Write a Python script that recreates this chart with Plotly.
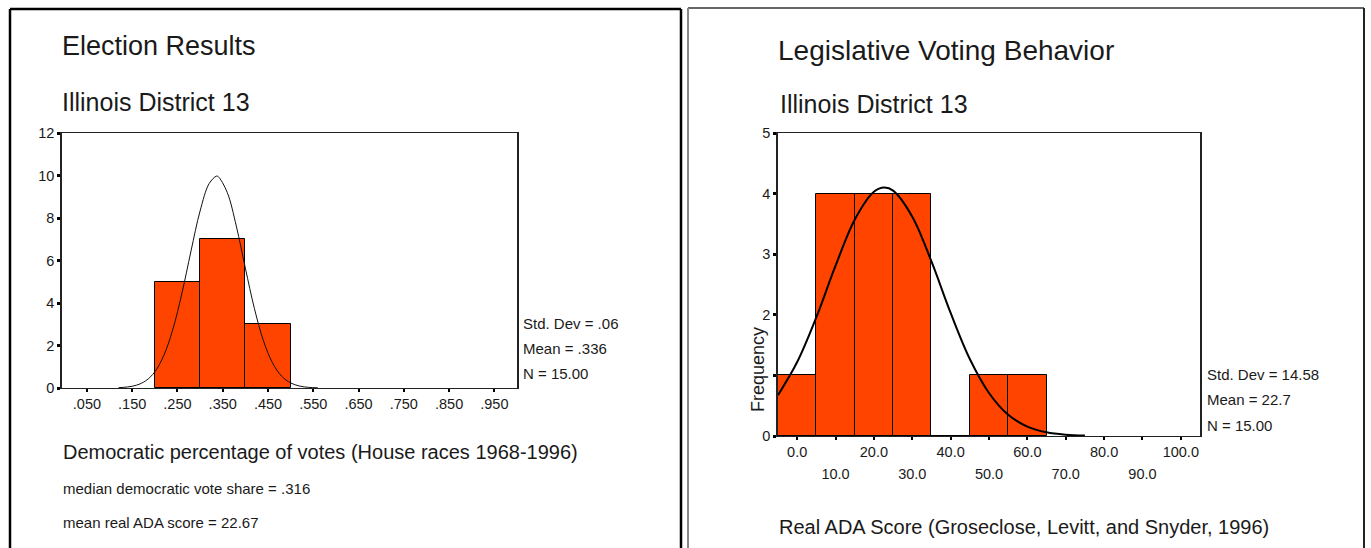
import plotly.graph_objects as go

W, H = 1371, 548

# ---------- Data: left panel (Democratic vote share) ----------
vote_bin_left = [0.2, 0.3, 0.4]
vote_bin_width = 0.1
vote_counts = [5, 7, 3]
vote_curve_x = [0.12, 0.14, 0.16, 0.18, 0.20, 0.22, 0.24, 0.26, 0.28, 0.30, 0.32, 0.336,
                0.34, 0.36, 0.38, 0.40, 0.42, 0.44, 0.46, 0.48, 0.50, 0.52, 0.54, 0.56]
vote_curve_y = [0.015, 0.05, 0.135, 0.34, 0.76, 1.54, 2.77, 4.47, 6.45, 8.33, 9.62, 9.97,
                9.95, 9.20, 7.62, 5.64, 3.74, 2.22, 1.18, 0.56, 0.24, 0.09, 0.03, 0.01]
vote_tickvals = [0.05, 0.15, 0.25, 0.35, 0.45, 0.55, 0.65, 0.75, 0.85, 0.95]
vote_ticktext = [".050", ".150", ".250", ".350", ".450", ".550", ".650", ".750", ".850", ".950"]
vote_yticks = [0, 2, 4, 6, 8, 10, 12]
vote_stats = ["Std. Dev = .06", "Mean = .336", "N = 15.00"]

# ---------- Data: right panel (Real ADA score) ----------
ada_bin_left = [-5, 5, 15, 25, 35, 45, 55]
ada_bin_width = 10
ada_counts = [1, 4, 4, 4, 0, 1, 1]
ada_curve_x = [-5, 0, 5, 10, 15, 20, 22.7, 25, 30, 35, 40, 45, 50, 55, 60, 65, 70, 75]
ada_curve_y = [0.675, 1.22, 1.96, 2.81, 3.57, 4.03, 4.10, 4.05, 3.62, 2.88, 2.03, 1.27,
               0.71, 0.35, 0.156, 0.061, 0.021, 0.007]
ada_even_ticks = [0, 20, 40, 60, 80, 100]
ada_even_text = ["0.0", "20.0", "40.0", "60.0", "80.0", "100.0"]
ada_odd_ticks = [10, 30, 50, 70, 90]
ada_odd_text = ["10.0", "30.0", "50.0", "70.0", "90.0"]
ada_yticks = [0, 1, 2, 3, 4, 5]
ada_yticktext = ["0", "", "2", "3", "4", "5"]
ada_stats = ["Std. Dev = 14.58", "Mean = 22.7", "N = 15.00"]

BAR = "#FF4400"
FONT = "Liberation Sans"
TXT = "#1a1a1a"
TICK = 14.5

def px(x):
    return x / W

def py(y):
    return 1 - y / H

fig = go.Figure()

fig.add_trace(go.Bar(
    x=[b + vote_bin_width / 2 for b in vote_bin_left], y=vote_counts, width=vote_bin_width,
    marker=dict(color=BAR, line=dict(color="black", width=1)),
    xaxis="x", yaxis="y", showlegend=False))
fig.add_trace(go.Scatter(
    x=vote_curve_x, y=vote_curve_y, mode="lines", line=dict(color="#111", width=1, shape="spline"),
    xaxis="x", yaxis="y", showlegend=False))

fig.add_trace(go.Bar(
    x=[b + ada_bin_width / 2 for b in ada_bin_left], y=ada_counts, width=ada_bin_width,
    marker=dict(color=BAR, line=dict(color="black", width=1)),
    xaxis="x2", yaxis="y2", showlegend=False))
fig.add_trace(go.Scatter(
    x=ada_curve_x, y=ada_curve_y, mode="lines", line=dict(color="black", width=2, shape="spline"),
    xaxis="x2", yaxis="y2", showlegend=False))

axis_common = dict(showgrid=False, zeroline=False, showline=True, mirror=True,
                   linecolor="#222", ticks="outside", tickcolor="black", automargin=False,
                   tickfont=dict(family=FONT, size=TICK, color=TXT), fixedrange=True)

fig.update_layout(
    width=W, height=H,
    margin=dict(l=0, r=0, t=0, b=0, pad=0, autoexpand=False),
    paper_bgcolor="white", plot_bgcolor="white",
    bargap=0,
    xaxis=dict(axis_common, domain=[px(62), px(517)], range=[-0.005, 1.0],
               tickvals=vote_tickvals, ticktext=vote_ticktext, ticklen=3, tickwidth=2,
               linewidth=1, anchor="y"),
    yaxis=dict(axis_common, domain=[py(388), py(133)], range=[0, 12],
               tickvals=vote_yticks, ticklen=3, tickwidth=3, linewidth=1.5, anchor="x"),
    xaxis2=dict(axis_common, domain=[px(778), px(1200)], range=[-5, 105],
                tickvals=ada_even_ticks, ticktext=ada_even_text, ticklen=3, tickwidth=2,
                linewidth=1, anchor="y2"),
    xaxis3=dict(axis_common, domain=[px(778), px(1200)], range=[-5, 105],
                overlaying="x2", anchor="y2", showline=False, mirror=False,
                tickvals=ada_odd_ticks, ticktext=ada_odd_text, ticklen=3, tickwidth=2,
                ticklabelstandoff=22),
    yaxis2=dict(axis_common, domain=[py(436), py(133)], range=[0, 5],
                tickvals=ada_yticks, ticktext=ada_yticktext, ticklen=3, tickwidth=3,
                linewidth=1.5, anchor="x2"),
)

# invisible helper trace so the odd-tick axis is rendered
fig.add_trace(go.Scatter(x=[None], y=[None], xaxis="x3", yaxis="y2", showlegend=False,
                         hoverinfo="skip"))

# panel frames (open at the bottom, as in the cropped original)
def frame_line(x0, y0, x1, y1, color, width):
    fig.add_shape(type="line", xref="paper", yref="paper",
                  x0=px(x0), x1=px(x1), y0=py(y0), y1=py(y1),
                  line=dict(color=color, width=width))

frame_line(10, 9, 681, 9, "black", 2.5)
frame_line(10, 9, 10, 548, "black", 2.5)
frame_line(681, 9, 681, 548, "black", 2.5)
frame_line(688, 8, 1364, 8, "#333", 1.5)
frame_line(688, 8, 688, 548, "#888", 2)
frame_line(1364, 8, 1364, 548, "#222", 2)

def note(text, x, y, size, angle=0, xanchor="left"):
    fig.add_annotation(text=text, xref="paper", yref="paper", x=px(x), y=py(y),
                       xanchor=xanchor, yanchor="middle", showarrow=False, textangle=angle,
                       font=dict(family=FONT, size=size, color=TXT))

note("Election Results", 60, 46, 27)
note("Illinois District 13", 60, 102, 25)
for i, s in enumerate(vote_stats):
    note(s, 521, 323 + 25 * i, 15)
note("Democratic percentage of votes (House races 1968-1996)", 61, 452, 20)
note("median democratic vote share = .316", 61, 488, 15)
note("mean real ADA score = 22.67", 61, 522, 15)

note("Legislative Voting Behavior", 776, 50, 28)
note("Illinois District 13", 778, 104, 25)
for i, s in enumerate(ada_stats):
    note(s, 1205, 374 + 25.5 * i, 15)
note("Frequency", 758, 370, 18, angle=-90, xanchor="center")
note("Real ADA Score (Groseclose, Levitt, and Snyder, 1996)", 777, 527, 20)

post = (
    "var css='margin:0;padding:0;overflow:hidden;width:1371px;height:548px;';"
    "document.documentElement.style.cssText=css;"
    "document.body.style.cssText=css;"
    "var d=document.getElementById('{plot_id}');"
    "d.style.position='fixed';d.style.left='0px';d.style.top='0px';"
)
fig.write_html("out.html", config={"displayModeBar": False}, post_script=post)
